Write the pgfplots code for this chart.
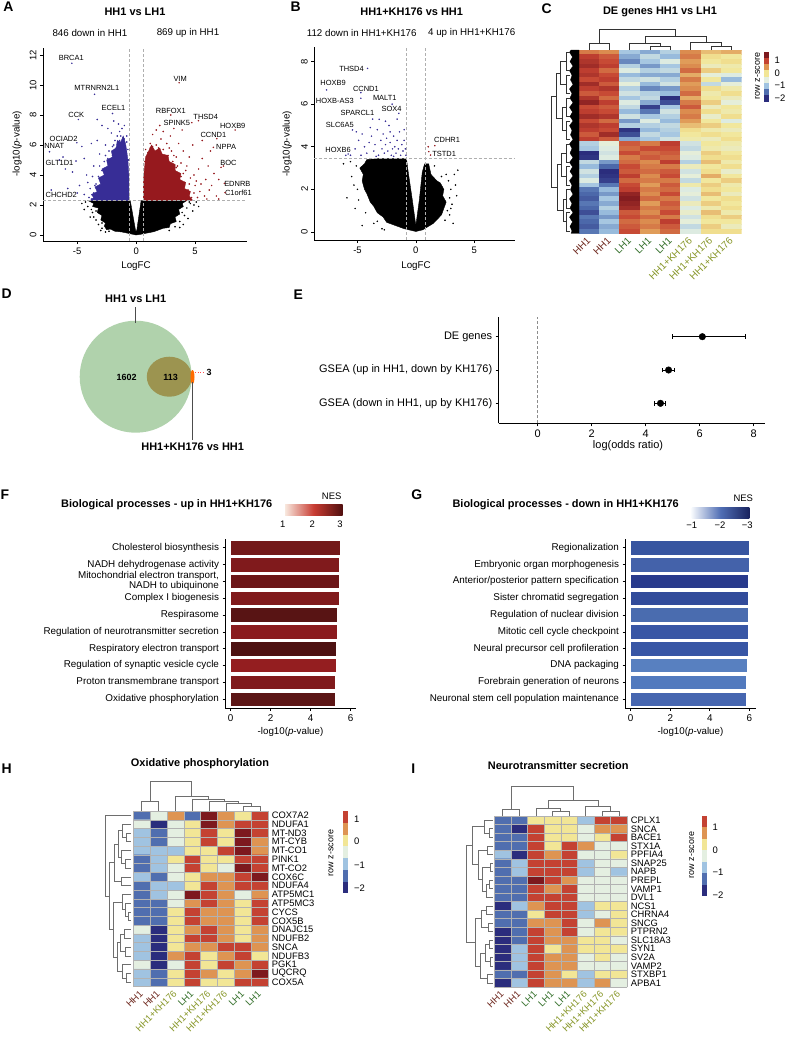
\documentclass[border=0pt]{standalone}
\usepackage{fontspec}
\setmainfont{Liberation Sans}
\usepackage{xcolor}
\usepackage{pgfplots}
\pgfplotsset{compat=1.18}

\newcommand{\fsz}[1]{\fontsize{#1}{#1}\selectfont}

\definecolor{vblue}{RGB}{55,45,150}
\definecolor{vred}{RGB}{150,25,30}
\definecolor{hhc}{RGB}{110,40,30}
\definecolor{lhc}{RGB}{50,110,40}
\definecolor{khc}{RGB}{135,150,40}
\definecolor{vgreen}{RGB}{176,210,172}
\definecolor{volive}{RGB}{156,148,80}
\definecolor{dashg}{RGB}{175,175,175}
\definecolor{dend}{RGB}{110,110,110}
% heatmap levels
\definecolor{z0}{RGB}{43,45,125}
\definecolor{z1}{RGB}{80,110,175}
\definecolor{z2}{RGB}{160,195,225}
\definecolor{z3}{RGB}{228,239,225}
\definecolor{z4}{RGB}{242,230,150}
\definecolor{z5}{RGB}{222,148,82}
\definecolor{z6}{RGB}{196,66,50}
\definecolor{z7}{RGB}{125,25,30}
% F bars
\definecolor{f1}{RGB}{115,25,25}
\definecolor{f2}{RGB}{128,26,28}
\definecolor{f3}{RGB}{108,22,24}
\definecolor{f4}{RGB}{128,26,28}
\definecolor{f5}{RGB}{88,20,20}
\definecolor{f6}{RGB}{138,27,30}
\definecolor{f7}{RGB}{78,18,18}
\definecolor{f8}{RGB}{148,30,32}
\definecolor{f9}{RGB}{128,26,28}
\definecolor{f10}{RGB}{92,22,22}
% G bars
\definecolor{g1}{RGB}{55,85,160}
\definecolor{g2}{RGB}{68,98,170}
\definecolor{g3}{RGB}{40,58,140}
\definecolor{g4}{RGB}{50,76,155}
\definecolor{g5}{RGB}{74,108,175}
\definecolor{g6}{RGB}{56,86,165}
\definecolor{g7}{RGB}{56,86,165}
\definecolor{g8}{RGB}{88,128,192}
\definecolor{g9}{RGB}{82,122,190}
\definecolor{g10}{RGB}{70,102,176}

\pgfplotsset{
  colormap={zs}{rgb255=(43,45,125) rgb255=(80,110,175) rgb255=(160,195,225) rgb255=(228,239,225) rgb255=(242,230,150) rgb255=(222,148,82) rgb255=(196,66,50) rgb255=(125,25,30)},
  /pgf/number format/assume math mode=true,
  vol/.style={anchor=north west, scale only axis, axis lines=left,
    axis line style={-,line width=0.6pt}, tick align=outside, major tick length=3bp,
    tick style={black,line width=0.6pt}, xtick={-5,0,5},
    tick label style={font=\fsz{9.5}}, yticklabel style={rotate=90,anchor=south},
    clip=false},
  bars/.style={anchor=north west, scale only axis, axis lines=left,
    axis line style={-,line width=0.6pt}, tick align=outside, major tick length=2.5bp,
    tick style={black,line width=0.6pt}, ytick={1,...,10}, xtick={0,2,4,6},
    xbar, bar width=14.5bp, bar shift=0pt,
    tick label style={font=\fsz{9.9}}, yticklabel style={align=right}},
  hm/.style={anchor=north west, scale only axis, xmin=-0.5, xmax=7.5, ymin=-0.5,
    y dir=reverse, axis line style={draw=none}, tick style={draw=none},
    major tick length=0pt, minor tick length=0pt, xtick={0,...,7},
    minor xtick={-0.5,0.5,...,7.5}, xminorgrids, yminorgrids,
    minor grid style={gray!60,line width=0.6pt}, axis on top,
    colormap name=zs, point meta min=-1.75, point meta max=1.75,
    yticklabel pos=right, yticklabel style={font=\fsz{9.4},anchor=west},
    xticklabel style={font=\fsz{9.5},xshift=2bp,yshift=-3bp,rotate=45,anchor=east}},
}

\begin{document}
\begin{tikzpicture}
\useasboundingbox (0,0) rectangle (785bp,-1037bp);

%% ---------------- A: volcano HH1 vs LH1
\begin{axis}[vol, at={(43bp,-47.5bp)}, width=204bp, height=193.5bp,
  xmin=-7.9, xmax=9.4, ymin=-0.4, ymax=12.5, ytick={0,2,...,12}]
\addplot[fill=black, draw=black, line width=0.4pt] coordinates {
 (0,0) (-0.3,0.05) (-1.2,0.2) (-1.8,0.25) (-2.2,0.4) (-2.5,0.35) (-2.7,0.6)
 (-2.6,0.8) (-3.0,1.0) (-2.9,1.3) (-3.3,1.5) (-3.2,1.8) (-3.7,1.9) (-3.6,2.1)
 (-4.1,2.3) (-0.5,2.3) (-0.05,0.3) (0.05,0.3) (0.42,2.3) (4.3,2.3) (3.9,2.1)
 (4.0,1.9) (3.6,1.7) (3.7,1.4) (3.3,1.2) (3.4,0.9) (2.9,0.75) (2.8,0.5)
 (2.3,0.45) (1.5,0.22) (0.4,0.05)} -- cycle;
\addplot[only marks, mark=*, mark size=0.55pt, black] coordinates {
 (-4.3,2.2) (-4.1,1.9) (-3.7,1.5) (-3.4,1.0) (-3.2,0.7) (-3.6,1.2) (-2.9,0.45)
 (-2.3,0.25) (-3.0,0.3) (-4.4,1.7) (-3.9,1.2) (3.7,0.9) (4.1,1.3) (4.3,1.8)
 (4.6,2.1) (4.0,0.7) (3.3,0.55) (4.8,1.6) (5.1,2.2) (2.8,0.3) (4.4,1.1) (5.3,1.9)
 (3.7,0.5) (-2.6,0.2) (-4.6,2.1) (-3.4,1.6) (-2.9,0.8) (4.5,2.2) (3.9,1.5) (3.3,0.9)
 (4.9,2.0) (-3.8,1.7) (2.6,0.55)};
\addplot[fill=vblue, draw=vblue, line width=0.4pt] coordinates {
 (-0.6,2.3) (-3.9,2.3) (-3.6,2.5) (-3.8,2.7) (-3.3,2.9) (-3.5,3.2) (-3.0,3.4)
 (-3.2,3.8) (-2.7,4.0) (-2.9,4.4) (-2.4,4.6) (-2.5,5.0) (-2.0,5.2) (-2.1,5.6)
 (-1.7,5.8) (-1.6,6.3) (-1.3,6.2) (-1.1,6.6) (-0.9,6.1) (-0.8,5.6) (-0.7,5.0)
 (-0.62,4.0)} -- cycle;
\addplot[only marks, mark=*, mark size=0.55pt, vblue] coordinates {
 (-4.0,2.5) (-4.4,2.7) (-3.9,3.1) (-4.8,3.3) (-3.4,3.4) (-3.2,3.9) (-4.2,4.0)
 (-2.9,4.3) (-3.6,4.6) (-2.7,4.9) (-2.4,5.1) (-3.1,5.4) (-2.3,5.6) (-2.0,5.9)
 (-2.6,6.0) (-1.8,6.3) (-1.6,6.6) (-2.1,6.8) (-1.4,6.9) (-1.2,7.1) (-1.0,7.3)
 (-1.5,7.4) (-2.4,7.1) (-2.9,7.3) (-3.3,7.7) (-0.8,6.6) (-0.7,5.7) (-1.1,6.5)
 (-3.8,6.1) (-4.4,5.1) (-5.4,4.2) (-5.8,3.1) (-6.5,5.0) (-5.0,2.8) (-3.3,6.3)
 (-1.9,7.6) (-4.6,5.9) (-6.0,4.4)
 (-3.8,2.4) (-3.6,2.8) (-3.3,3.1) (-3.0,3.5) (-2.8,3.9) (-2.5,4.4) (-2.3,4.8)
 (-2.0,5.3) (-1.7,5.8) (-1.4,6.3) (-1.0,6.4) (-0.8,6.2) (-0.65,5.0) (-3.5,3.3)
 (-2.9,3.8) (-3.1,4.6) (-2.6,5.3) (-2.2,5.0) (-1.9,6.0) (-1.3,6.6) (-4.1,3.5)
 (-3.7,3.9)
 (-5.45,11.45) (-3.53,9.38) (-2.0,8.1)
 (-4.9,7.7) (-5.03,6.15) (-7.35,5.55) (-5.1,4.93) (-7.2,3.0) (-6.2,5.2)};
\addplot[fill=vred, draw=vred, line width=0.4pt] coordinates {
 (0.6,2.3) (4.8,2.3) (4.5,2.6) (4.6,2.9) (4.1,3.1) (4.2,3.5) (3.7,3.7) (3.8,4.1)
 (3.3,4.3) (3.3,4.7) (2.8,4.9) (2.7,5.3) (2.2,5.4) (2.0,5.8) (1.6,5.6) (1.3,6.0)
 (1.0,5.5) (0.8,5.2) (0.7,4.4) (0.6,3.5)} -- cycle;
\addplot[only marks, mark=*, mark size=0.55pt, vred] coordinates {
 (0.8,5.7) (1.2,6.1) (1.7,6.0) (2.1,6.4) (2.6,6.1) (3.0,5.6) (3.4,5.2) (3.8,4.8)
 (4.2,4.3) (4.6,3.8) (5.0,3.3) (5.4,2.9) (5.8,2.6) (6.2,3.0) (4.9,4.0) (5.3,4.4)
 (4.5,5.2) (4.0,5.6) (3.6,6.1) (2.9,6.6) (2.3,6.9) (1.7,7.0) (1.4,6.7) (5.6,5.1)
 (6.1,4.6) (6.6,4.1) (6.4,3.3) (7.0,3.7) (6.8,2.6) (5.9,3.7) (4.8,6.0) (5.6,6.3)
 (3.2,7.1) (2.0,7.3) (6.3,5.6) (7.4,4.6) (5.2,2.5) (6.0,2.4) (7.0,2.4) (3.9,7.0)
 (4.7,2.5) (4.4,3.0) (4.1,3.5) (3.8,3.9) (3.4,4.5) (3.1,4.9) (2.7,5.3) (2.3,5.7)
 (1.9,5.8) (1.4,5.9) (1.0,5.5) (0.75,4.9) (4.9,2.8) (4.5,3.4) (4.0,4.1) (3.5,4.6)
 (2.8,5.8) (1.2,5.8) (5.1,3.6) (4.3,4.6) (3.2,5.3) (5.5,3.4)
 (3.64,10.15) (2.94,8.0) (4.72,7.49) (5.28,7.62) (8.39,7.0) (6.84,6.42)
 (6.55,5.84) (7.2,4.51) (7.48,3.44) (7.54,2.82)};
\addplot[dashg, line width=0.7pt, dash pattern=on 3pt off 2pt] coordinates {(-0.585,-0.4) (-0.585,12.5)};
\addplot[dashg, line width=0.7pt, dash pattern=on 3pt off 2pt] coordinates {(0.585,-0.4) (0.585,12.5)};
\addplot[dashg, line width=0.7pt, dash pattern=on 3pt off 2pt] coordinates {(-7.9,2.3) (9.4,2.3)};
\begin{scope}[font=\fsz{7.5}]
\node at (axis cs:-5.5,11.8) {BRCA1};
\node at (axis cs:-3.33,9.78) {MTRNRN2L1};
\node at (axis cs:-1.92,8.5) {ECEL1};
\node at (axis cs:-5.08,8.0) {CCK};
\node at (axis cs:-6.15,6.4) {OCIAD2};
\node at (axis cs:-6.95,5.95) {NNAT};
\node at (axis cs:-6.5,4.78) {GLT1D1};
\node at (axis cs:-6.35,2.67) {CHCHD2};
\node at (axis cs:3.73,10.4) {VIM};
\node at (axis cs:2.94,8.27) {RBFOX1};
\node at (axis cs:3.45,7.49) {SPINK5};
\node at (axis cs:5.9,7.9) {THSD4};
\node at (axis cs:8.19,7.27) {HOXB9};
\node at (axis cs:6.55,6.67) {CCND1};
\node at (axis cs:7.63,5.89) {NPPA};
\node at (axis cs:7.82,4.78) {BOC};
\node at (axis cs:8.58,3.38) {EDNRB};
\node at (axis cs:8.67,2.78) {C1orf61};
\end{scope}
\end{axis}

%% ---------------- B: volcano HH1+KH176 vs HH1
\begin{axis}[vol, at={(314.3bp,-46.7bp)}, width=200.7bp, height=193.3bp,
  xmin=-8.7, xmax=8.5, ymin=-0.38, ymax=8.7, ytick={0,2,...,8}]
\addplot[fill=black, draw=black, line width=0.4pt] coordinates {
 (0,0.02) (-1.0,0.15) (-2.0,0.35) (-2.5,0.45) (-2.8,0.7) (-3.3,0.9) (-3.6,1.2)
 (-3.9,1.4) (-4.2,1.8) (-4.4,2.0) (-4.6,2.4) (-4.5,2.7) (-4.8,3.0) (-4.4,3.2)
 (-4.2,3.4) (-3.0,3.45) (-0.8,3.45) (-0.7,3.0) (-0.3,1.5) (0,0.3)
 (0.3,1.5) (0.55,2.8) (0.75,3.2) (1.1,3.2) (1.3,2.7) (1.8,2.4) (2.1,2.3) (2.4,2.0)
 (2.3,1.7) (2.6,1.4) (2.2,0.8) (1.5,0.4) (0.6,0.1)} -- cycle;
\addplot[only marks, mark=*, mark size=0.55pt, black] coordinates {
 (-5.5,2.6) (-5.9,1.6) (-5.2,1.1) (-4.6,0.3) (-3.6,0.4) (-2.9,0.15) (-5.0,2.0)
 (-6.2,3.2) (2.8,2.4) (3.0,2.0) (3.1,1.3) (2.9,0.8) (3.3,2.7) (3.5,1.7) (2.6,2.7)
 (3.2,0.4) (1.6,3.1) (2.2,2.6) (-5.6,3.3) (-2.7,0.1) (3.6,2.9) (3.0,1.1) (2.5,0.55)
 (-5.1,3.1) (-4.9,1.5) (-4.3,0.9) (-3.3,0.5) (-5.3,2.2) (2.9,1.6) (2.7,1.0) (3.4,2.2)};
\addplot[only marks, mark=*, mark size=0.55pt, vblue] coordinates {
 (-5.6,3.6) (-5.2,3.9) (-4.9,4.3) (-4.6,4.6) (-4.4,4.0) (-4.2,3.7) (-4.0,4.2)
 (-3.8,4.5) (-3.6,3.8) (-3.5,4.1) (-3.3,4.8) (-3.2,3.6) (-3.0,4.3) (-2.9,3.9)
 (-2.8,4.6) (-2.7,3.7) (-2.6,4.1) (-2.5,4.4) (-2.4,3.8) (-2.3,5.0) (-2.2,4.2)
 (-2.1,3.6) (-2.0,3.9) (-1.9,4.5) (-1.8,4.0) (-1.7,3.7) (-1.6,4.3) (-1.5,3.9)
 (-1.4,4.7) (-1.3,3.6) (-1.2,4.1) (-1.1,3.8) (-1.0,4.3) (-0.9,3.9) (-0.85,3.6)
 (-1.6,5.3) (-2.6,5.2) (-3.9,4.9) (-5.1,4.7) (-4.7,3.6) (-1.9,3.55) (-3.4,3.55)
 (-2.2,4.7) (-1.0,4.8) (-6.0,3.6) (-3.7,5.3)
 (-4.14,7.68) (-7.65,6.67) (-4.71,6.54) (-4.71,6.28) (-2.03,6.0) (-1.46,5.57)
 (-3.14,5.29) (-5.43,4.79) (-5.8,3.66)};
\addplot[only marks, mark=*, mark size=0.55pt, vred] coordinates {
 (1.63,4.05) (1.26,3.61) (1.06,4.0) (1.11,3.77)};
\addplot[dashg, line width=0.7pt, dash pattern=on 3pt off 2pt] coordinates {(-0.77,-0.38) (-0.77,8.7)};
\addplot[dashg, line width=0.7pt, dash pattern=on 3pt off 2pt] coordinates {(0.8,-0.38) (0.8,8.7)};
\addplot[dashg, line width=0.7pt, dash pattern=on 3pt off 2pt] coordinates {(-8.7,3.46) (8.5,3.46)};
\begin{scope}[font=\fsz{7.5}]
\node at (axis cs:-5.51,7.64) {THSD4};
\node at (axis cs:-7.09,6.98) {HOXB9};
\node at (axis cs:-4.28,6.74) {CCND1};
\node at (axis cs:-6.94,6.16) {HOXB-AS3};
\node at (axis cs:-2.66,6.28) {MALT1};
\node at (axis cs:-2.08,5.77) {SOX4};
\node at (axis cs:-5.0,5.57) {SPARCL1};
\node at (axis cs:-6.51,5.02) {SLC6A5};
\node at (axis cs:-6.66,3.85) {HOXB6};
\node at (axis cs:2.68,4.32) {CDHR1};
\node at (axis cs:2.43,3.66) {TSTD1};
\end{scope}
\end{axis}

%% ---------------- C: heatmap DE genes
\begin{axis}[hm, at={(579bp,-50bp)}, width=162.7bp, height=183.3bp, ymax=39.5,
  ytick=\empty, xminorgrids=false, yminorgrids=false,
  point meta min=-1.75, point meta max=1.75,
  xticklabel style={font=\fsz{10}},
  xticklabels={\textcolor{hhc}{HH1},\textcolor{hhc}{HH1},\textcolor{lhc}{LH1},\textcolor{lhc}{LH1},\textcolor{lhc}{LH1},\textcolor{khc}{HH1+KH176},\textcolor{khc}{HH1+KH176},\textcolor{khc}{HH1+KH176}}]
\addplot[matrix plot*, mesh/cols=8, point meta=explicit] coordinates {
(0,0)[0.9] (1,0)[0.8] (2,0)[-0.7] (3,0)[-0.9] (4,0)[-0.6] (5,0)[0.8] (6,0)[0.5] (7,0)[0.6]
(0,1)[1.3] (1,1)[1.1] (2,1)[-0.9] (3,1)[-0.5] (4,1)[-0.8] (5,1)[0.9] (6,1)[0.3] (7,1)[0.2]
(0,2)[1.4] (1,2)[1.2] (2,2)[-1.1] (3,2)[-0.7] (4,2)[-0.3] (5,2)[0.7] (6,2)[0.2] (7,2)[0.3]
(0,3)[1.5] (1,3)[1.3] (2,3)[-0.6] (3,3)[-1.0] (4,3)[-0.7] (5,3)[0.8] (6,3)[0.0] (7,3)[0.1]
(0,4)[1.3] (1,4)[1.0] (2,4)[-0.3] (3,4)[-0.6] (4,4)[-0.5] (5,4)[1.0] (6,4)[0.4] (7,4)[0.2]
(0,5)[1.4] (1,5)[1.2] (2,5)[-0.8] (3,5)[-0.9] (4,5)[-0.9] (5,5)[0.6] (6,5)[-0.2] (7,5)[-0.3]
(0,6)[1.2] (1,6)[1.3] (2,6)[-0.5] (3,6)[-0.4] (4,6)[-0.6] (5,6)[0.9] (6,6)[0.2] (7,6)[-0.8]
(0,7)[1.5] (1,7)[1.1] (2,7)[-0.2] (3,7)[-0.8] (4,7)[-0.4] (5,7)[0.7] (6,7)[-0.5] (7,7)[-0.2]
(0,8)[1.3] (1,8)[1.4] (2,8)[-0.6] (3,8)[-1.1] (4,8)[-1.0] (5,8)[0.8] (6,8)[0.3] (7,8)[0.1]
(0,9)[1.1] (1,9)[1.2] (2,9)[-0.4] (3,9)[-0.6] (4,9)[-0.8] (5,9)[1.0] (6,9)[0.1] (7,9)[0.3]
(0,10)[1.4] (1,10)[1.0] (2,10)[-0.7] (3,10)[-0.5] (4,10)[-1.8] (5,10)[0.6] (6,10)[0.2] (7,10)[0.0]
(0,11)[1.6] (1,11)[1.3] (2,11)[-0.3] (3,11)[-0.9] (4,11)[-1.5] (5,11)[0.9] (6,11)[0.4] (7,11)[-0.2]
(0,12)[1.2] (1,12)[1.1] (2,12)[-0.5] (3,12)[-1.6] (4,12)[-0.7] (5,12)[1.1] (6,12)[0.0] (7,12)[0.2]
(0,13)[1.3] (1,13)[1.2] (2,13)[-0.8] (3,13)[-1.2] (4,13)[-0.4] (5,13)[0.8] (6,13)[0.3] (7,13)[0.1]
(0,14)[1.5] (1,14)[1.4] (2,14)[-0.4] (3,14)[-0.7] (4,14)[-0.6] (5,14)[0.9] (6,14)[-0.1] (7,14)[0.3]
(0,15)[1.2] (1,15)[1.0] (2,15)[-1.0] (3,15)[-0.3] (4,15)[-0.8] (5,15)[0.7] (6,15)[0.2] (7,15)[-0.3]
(0,16)[1.4] (1,16)[1.3] (2,16)[-0.6] (3,16)[-0.6] (4,16)[-0.5] (5,16)[0.5] (6,16)[0.4] (7,16)[0.2]
(0,17)[1.3] (1,17)[1.2] (2,17)[-1.7] (3,17)[-0.8] (4,17)[-0.6] (5,17)[0.3] (6,17)[0.1] (7,17)[0.0]
(0,18)[1.1] (1,18)[1.5] (2,18)[-1.5] (3,18)[-0.5] (4,18)[-0.7] (5,18)[0.2] (6,18)[0.3] (7,18)[0.2]
(0,19)[1.3] (1,19)[1.1] (2,19)[-0.9] (3,19)[-0.7] (4,19)[-0.4] (5,19)[0.1] (6,19)[0.0] (7,19)[0.3]
(0,20)[-0.6] (1,20)[-0.2] (2,20)[1.1] (3,20)[0.9] (4,20)[1.3] (5,20)[-0.4] (6,20)[0.2] (7,20)[0.1]
(0,21)[-0.7] (1,21)[-0.3] (2,21)[1.0] (3,21)[1.2] (4,21)[1.2] (5,21)[-0.5] (6,21)[0.1] (7,21)[0.0]
(0,22)[-1.8] (1,22)[-0.4] (2,22)[1.2] (3,22)[1.0] (4,22)[1.1] (5,22)[-0.2] (6,22)[0.4] (7,22)[0.2]
(0,23)[-1.7] (1,23)[-0.3] (2,23)[0.9] (3,23)[1.1] (4,23)[1.0] (5,23)[-0.3] (6,23)[0.3] (7,23)[0.3]
(0,24)[-0.5] (1,24)[-1.0] (2,24)[1.0] (3,24)[0.8] (4,24)[1.3] (5,24)[-0.6] (6,24)[0.5] (7,24)[0.1]
(0,25)[-0.8] (1,25)[-1.3] (2,25)[1.2] (3,25)[0.9] (4,25)[0.9] (5,25)[0.0] (6,25)[0.2] (7,25)[0.3]
(0,26)[-0.4] (1,26)[-1.8] (2,26)[1.1] (3,26)[1.0] (4,26)[1.1] (5,26)[-0.4] (6,26)[0.3] (7,26)[-0.1]
(0,27)[-0.6] (1,27)[-1.7] (2,27)[1.3] (3,27)[0.8] (4,27)[1.2] (5,27)[-0.2] (6,27)[0.6] (7,27)[0.2]
(0,28)[-0.3] (1,28)[-1.6] (2,28)[1.0] (3,28)[0.9] (4,28)[0.9] (5,28)[-0.5] (6,28)[0.2] (7,28)[0.4]
(0,29)[-0.7] (1,29)[-1.2] (2,29)[1.2] (3,29)[0.7] (4,29)[1.1] (5,29)[0.1] (6,29)[0.4] (7,29)[0.1]
(0,30)[-1.2] (1,30)[-0.8] (2,30)[1.3] (3,30)[0.9] (4,30)[1.0] (5,30)[-0.3] (6,30)[0.3] (7,30)[0.2]
(0,31)[-1.3] (1,31)[-1.0] (2,31)[1.6] (3,31)[0.8] (4,31)[1.2] (5,31)[-0.2] (6,31)[0.5] (7,31)[0.0]
(0,32)[-1.4] (1,32)[-0.7] (2,32)[1.7] (3,32)[1.0] (4,32)[0.9] (5,32)[-0.4] (6,32)[0.2] (7,32)[0.3]
(0,33)[-1.2] (1,33)[-0.9] (2,33)[1.6] (3,33)[0.7] (4,33)[1.1] (5,33)[0.0] (6,33)[0.4] (7,33)[0.2]
(0,34)[-1.3] (1,34)[-0.6] (2,34)[1.5] (3,34)[0.9] (4,34)[1.0] (5,34)[-0.3] (6,34)[0.1] (7,34)[0.3]
(0,35)[-1.5] (1,35)[-0.8] (2,35)[1.1] (3,35)[0.8] (4,35)[1.2] (5,35)[-0.1] (6,35)[0.5] (7,35)[0.1]
(0,36)[-1.2] (1,36)[-1.0] (2,36)[1.2] (3,36)[1.0] (4,36)[0.9] (5,36)[-0.4] (6,36)[0.3] (7,36)[0.4]
(0,37)[-1.3] (1,37)[-0.7] (2,37)[1.0] (3,37)[0.8] (4,37)[1.3] (5,37)[-0.2] (6,37)[0.2] (7,37)[0.2]
(0,38)[-1.4] (1,38)[-0.9] (2,38)[1.1] (3,38)[0.9] (4,38)[1.1] (5,38)[-0.5] (6,38)[0.4] (7,38)[0.0]
(0,39)[-1.2] (1,39)[-0.8] (2,39)[1.2] (3,39)[0.7] (4,39)[1.0] (5,39)[-0.3] (6,39)[0.3] (7,39)[0.3]
};
\end{axis}

%% ---------------- E: odds ratios
\begin{axis}[at={(498.7bp,-316.7bp)}, anchor=north west, width=266.3bp, height=106.6bp,
  scale only axis, xmin=-1.44, xmax=8.42, ymin=0.4, ymax=3.6, axis lines=left,
  axis line style={-,line width=0.6pt}, tick align=outside, major tick length=3bp,
  tick style={black,line width=0.6pt}, xtick={0,2,4,6,8}, ytick={1,2,3},
  yticklabels={{GSEA (down in HH1, up by KH176)},{GSEA (up in HH1, down by KH176)},{DE genes}},
  tick label style={font=\fsz{11}}, clip=false]
\addplot[dashg!80!black, line width=0.6pt, dash pattern=on 3pt off 2pt] coordinates {(0,0.4) (0,3.6)};
\addplot[only marks, mark=*, mark size=3.3pt, black,
  error bars/.cd, x dir=both, x explicit,
  error bar style={line width=0.9pt,black},
  error mark options={rotate=90, mark size=2.2pt, line width=0.9pt, black}]
  coordinates {(6.1,3) += (1.6,0) -= (1.1,0)
               (4.85,2) += (0.2,0) -= (0.22,0)
               (4.55,1) += (0.2,0) -= (0.22,0)};
\end{axis}

%% ---------------- F: bars up
\begin{axis}[bars, at={(225bp,-539bp)}, width=131bp, height=169.3bp,
  xmin=-0.28, xmax=6.27, ymin=0.45, ymax=10.52,
  yticklabels={Oxidative phosphorylation,Proton transmembrane transport,Regulation of synaptic vesicle cycle,Respiratory electron transport,Regulation of neurotransmitter secretion,Respirasome,Complex I biogenesis,{Mitochondrial electron transport,\\NADH to ubiquinone},NADH dehydrogenase activity,Cholesterol biosynthesis}]
\addplot[fill=f1, draw=white, line width=0.6pt] coordinates {(5.50,10)};
\addplot[fill=f2, draw=white, line width=0.6pt] coordinates {(5.43,9)};
\addplot[fill=f3, draw=white, line width=0.6pt] coordinates {(5.42,8)};
\addplot[fill=f4, draw=white, line width=0.6pt] coordinates {(5.42,7)};
\addplot[fill=f5, draw=white, line width=0.6pt] coordinates {(5.32,6)};
\addplot[fill=f6, draw=white, line width=0.6pt] coordinates {(5.33,5)};
\addplot[fill=f7, draw=white, line width=0.6pt] coordinates {(5.30,4)};
\addplot[fill=f8, draw=white, line width=0.6pt] coordinates {(5.30,3)};
\addplot[fill=f9, draw=white, line width=0.6pt] coordinates {(5.23,2)};
\addplot[fill=f10, draw=white, line width=0.6pt] coordinates {(5.22,1)};
\end{axis}

%% ---------------- G: bars down
\begin{axis}[bars, at={(625bp,-539bp)}, width=131bp, height=169.3bp,
  xmin=-0.29, xmax=6.34, ymin=0.45, ymax=10.52,
  yticklabels={Neuronal stem cell population maintenance,Forebrain generation of neurons,DNA packaging,Neural precursor cell profileration,Mitotic cell cycle checkpoint,Regulation of nuclear division,Sister chromatid segregation,Anterior/posterior pattern specification,Embryonic organ morphogenesis,Regionalization}]
\addplot[fill=g1, draw=white, line width=0.6pt] coordinates {(6.01,10)};
\addplot[fill=g2, draw=white, line width=0.6pt] coordinates {(6.00,9)};
\addplot[fill=g3, draw=white, line width=0.6pt] coordinates {(5.96,8)};
\addplot[fill=g4, draw=white, line width=0.6pt] coordinates {(5.96,7)};
\addplot[fill=g5, draw=white, line width=0.6pt] coordinates {(5.96,6)};
\addplot[fill=g6, draw=white, line width=0.6pt] coordinates {(5.96,5)};
\addplot[fill=g7, draw=white, line width=0.6pt] coordinates {(5.96,4)};
\addplot[fill=g8, draw=white, line width=0.6pt] coordinates {(5.92,3)};
\addplot[fill=g9, draw=white, line width=0.6pt] coordinates {(5.87,2)};
\addplot[fill=g10, draw=white, line width=0.6pt] coordinates {(5.84,1)};
\end{axis}

%% ---------------- H: oxidative phosphorylation heatmap
\begin{axis}[hm, at={(133.3bp,-811bp)}, width=135bp, height=175.7bp, ymax=19.5,
  ytick={0,...,19}, minor ytick={-0.5,0.5,...,19.5},
  yticklabels={COX7A2,NDUFA1,MT-ND3,MT-CYB,MT-CO1,PINK1,MT-CO2,COX6C,NDUFA4,ATP5MC1,ATP5MC3,CYCS,COX5B,DNAJC15,NDUFB2,SNCA,NDUFB3,PGK1,UQCRQ,COX5A},
  xticklabels={\textcolor{hhc}{HH1},\textcolor{hhc}{HH1},\textcolor{khc}{HH1+KH176},\textcolor{lhc}{LH1},\textcolor{khc}{HH1+KH176},\textcolor{khc}{HH1+KH176},\textcolor{lhc}{LH1},\textcolor{lhc}{LH1}}]
\addplot[matrix plot*, mesh/cols=8, point meta=explicit] coordinates {
(0,0)[-1.25] (1,0)[-0.25] (2,0)[0.75] (3,0)[-1.25] (4,0)[1.75] (5,0)[0.75] (6,0)[0.25] (7,0)[1.25]
(0,1)[-0.25] (1,1)[-1.75] (2,1)[-0.25] (3,1)[0.25] (4,1)[1.75] (5,1)[0.75] (6,1)[1.25] (7,1)[1.25]
(0,2)[-0.75] (1,2)[-1.25] (2,2)[-0.25] (3,2)[0.25] (4,2)[1.25] (5,2)[0.25] (6,2)[1.75] (7,2)[1.25]
(0,3)[-0.75] (1,3)[-1.25] (2,3)[-0.25] (3,3)[0.25] (4,3)[1.25] (5,3)[0.25] (6,3)[1.75] (7,3)[0.75]
(0,4)[-0.75] (1,4)[-0.75] (2,4)[-0.75] (3,4)[0.25] (4,4)[0.25] (5,4)[1.25] (6,4)[1.75] (7,4)[0.75]
(0,5)[-1.25] (1,5)[-0.75] (2,5)[0.25] (3,5)[1.25] (4,5)[0.25] (5,5)[0.25] (6,5)[1.25] (7,5)[1.25]
(0,6)[-1.25] (1,6)[-0.75] (2,6)[-0.25] (3,6)[1.25] (4,6)[0.25] (5,6)[-0.25] (6,6)[1.75] (7,6)[1.25]
(0,7)[-0.75] (1,7)[-1.25] (2,7)[-0.25] (3,7)[0.25] (4,7)[0.75] (5,7)[0.75] (6,7)[1.25] (7,7)[1.75]
(0,8)[-1.25] (1,8)[-0.75] (2,8)[-0.75] (3,8)[0.25] (4,8)[1.25] (5,8)[0.75] (6,8)[1.25] (7,8)[1.25]
(0,9)[-1.25] (1,9)[-0.75] (2,9)[-0.25] (3,9)[1.75] (4,9)[1.25] (5,9)[0.75] (6,9)[-0.25] (7,9)[0.75]
(0,10)[-1.25] (1,10)[-1.25] (2,10)[-0.25] (3,10)[0.75] (4,10)[1.25] (5,10)[0.75] (6,10)[0.25] (7,10)[1.25]
(0,11)[-1.25] (1,11)[-1.25] (2,11)[0.25] (3,11)[1.25] (4,11)[0.75] (5,11)[0.75] (6,11)[0.25] (7,11)[1.25]
(0,12)[-1.25] (1,12)[-1.25] (2,12)[0.25] (3,12)[1.25] (4,12)[0.75] (5,12)[0.75] (6,12)[0.25] (7,12)[1.25]
(0,13)[-0.25] (1,13)[-1.75] (2,13)[0.25] (3,13)[0.75] (4,13)[1.25] (5,13)[0.75] (6,13)[0.25] (7,13)[0.75]
(0,14)[-0.75] (1,14)[-1.75] (2,14)[0.25] (3,14)[1.25] (4,14)[1.25] (5,14)[0.75] (6,14)[0.25] (7,14)[0.75]
(0,15)[-0.75] (1,15)[-1.75] (2,15)[0.25] (3,15)[0.75] (4,15)[0.75] (5,15)[1.25] (6,15)[1.25] (7,15)[0.75]
(0,16)[-0.75] (1,16)[-1.75] (2,16)[0.75] (3,16)[1.25] (4,16)[0.25] (5,16)[0.75] (6,16)[1.25] (7,16)[0.25]
(0,17)[-0.25] (1,17)[-1.75] (2,17)[-0.25] (3,17)[1.25] (4,17)[0.25] (5,17)[1.25] (6,17)[0.75] (7,17)[1.25]
(0,18)[-0.75] (1,18)[-1.25] (2,18)[0.25] (3,18)[1.25] (4,18)[0.75] (5,18)[0.25] (6,18)[0.75] (7,18)[1.75]
(0,19)[-0.75] (1,19)[-1.25] (2,19)[0.25] (3,19)[1.25] (4,19)[0.25] (5,19)[0.25] (6,19)[1.25] (7,19)[1.25]
};
\end{axis}

%% ---------------- I: neurotransmitter secretion heatmap
\begin{axis}[hm, at={(494.3bp,-816bp)}, width=133bp, height=171.3bp, ymax=19.5,
  ytick={0,...,19}, minor ytick={-0.5,0.5,...,19.5},
  yticklabels={CPLX1,SNCA,BACE1,STX1A,PPFIA4,SNAP25,NAPB,PREPL,VAMP1,DVL1,NCS1,CHRNA4,SNCG,PTPRN2,SLC18A3,SYN1,SV2A,VAMP2,STXBP1,APBA1},
  xticklabels={\textcolor{hhc}{HH1},\textcolor{hhc}{HH1},\textcolor{lhc}{LH1},\textcolor{lhc}{LH1},\textcolor{lhc}{LH1},\textcolor{khc}{HH1+KH176},\textcolor{khc}{HH1+KH176},\textcolor{khc}{HH1+KH176}}]
\addplot[matrix plot*, mesh/cols=8, point meta=explicit] coordinates {
(0,0)[-1.25] (1,0)[-1.25] (2,0)[0.25] (3,0)[0.25] (4,0)[0.25] (5,0)[-0.75] (6,0)[1.25] (7,0)[1.25]
(0,1)[-1.25] (1,1)[-1.75] (2,1)[1.25] (3,1)[0.25] (4,1)[0.25] (5,1)[-0.25] (6,1)[0.75] (7,1)[0.75]
(0,2)[-1.25] (1,2)[-1.25] (2,2)[1.25] (3,2)[0.25] (4,2)[0.25] (5,2)[-0.25] (6,2)[0.25] (7,2)[1.25]
(0,3)[-1.25] (1,3)[-1.25] (2,3)[1.25] (3,3)[0.25] (4,3)[1.25] (5,3)[0.75] (6,3)[-0.25] (7,3)[-0.25]
(0,4)[-0.75] (1,4)[-1.75] (2,4)[1.25] (3,4)[0.75] (4,4)[1.25] (5,4)[-0.25] (6,4)[-0.25] (7,4)[0.25]
(0,5)[-1.25] (1,5)[-0.75] (2,5)[1.25] (3,5)[1.25] (4,5)[1.25] (5,5)[-0.75] (6,5)[-0.25] (7,5)[-0.25]
(0,6)[-1.25] (1,6)[-0.75] (2,6)[1.25] (3,6)[1.25] (4,6)[1.25] (5,6)[-0.75] (6,6)[-0.25] (7,6)[-0.75]
(0,7)[-1.25] (1,7)[-1.25] (2,7)[1.75] (3,7)[1.25] (4,7)[0.75] (5,7)[-0.25] (6,7)[-0.25] (7,7)[-0.25]
(0,8)[-1.25] (1,8)[-1.25] (2,8)[1.25] (3,8)[0.75] (4,8)[1.25] (5,8)[-0.25] (6,8)[-0.25] (7,8)[-0.25]
(0,9)[-1.25] (1,9)[-1.25] (2,9)[1.25] (3,9)[1.25] (4,9)[1.25] (5,9)[-0.25] (6,9)[-0.25] (7,9)[-0.25]
(0,10)[-1.75] (1,10)[-0.75] (2,10)[0.75] (3,10)[1.25] (4,10)[1.25] (5,10)[-0.75] (6,10)[0.25] (7,10)[0.25]
(0,11)[-1.25] (1,11)[-1.25] (2,11)[0.25] (3,11)[1.25] (4,11)[1.25] (5,11)[-0.75] (6,11)[-0.25] (7,11)[0.25]
(0,12)[-1.25] (1,12)[-1.25] (2,12)[0.75] (3,12)[0.75] (4,12)[1.25] (5,12)[-0.25] (6,12)[0.75] (7,12)[0.25]
(0,13)[-1.75] (1,13)[-1.25] (2,13)[1.25] (3,13)[0.75] (4,13)[1.25] (5,13)[-0.25] (6,13)[0.25] (7,13)[0.25]
(0,14)[-1.75] (1,14)[-1.25] (2,14)[1.25] (3,14)[0.75] (4,14)[0.75] (5,14)[0.25] (6,14)[0.25] (7,14)[-0.25]
(0,15)[-1.75] (1,15)[-0.75] (2,15)[1.25] (3,15)[0.25] (4,15)[0.75] (5,15)[0.25] (6,15)[0.25] (7,15)[0.25]
(0,16)[-1.75] (1,16)[-0.75] (2,16)[1.25] (3,16)[0.75] (4,16)[0.75] (5,16)[-0.25] (6,16)[0.25] (7,16)[-0.25]
(0,17)[-1.75] (1,17)[-0.75] (2,17)[1.25] (3,17)[0.75] (4,17)[0.75] (5,17)[-0.25] (6,17)[-0.25] (7,17)[-0.25]
(0,18)[-1.25] (1,18)[-1.25] (2,18)[1.25] (3,18)[0.75] (4,18)[0.25] (5,18)[-0.75] (6,18)[0.25] (7,18)[0.25]
(0,19)[-1.75] (1,19)[-0.75] (2,19)[1.25] (3,19)[0.75] (4,19)[0.75] (5,19)[-0.75] (6,19)[0.75] (7,19)[-0.25]
};
\end{axis}

%% ---------------- canvas: dendrograms, Venn, legends, titles (pixel units)
\begin{axis}[at={(0,0)}, anchor=north west, width=785bp, height=1037bp, scale only axis,
  xmin=0, xmax=785, ymin=0, ymax=1037, y dir=reverse, hide axis, clip=false,
  unbounded coords=jump]
% C column dendrogram
\addplot[black!80, line width=0.7pt] coordinates {
 (589.2,50) (589.2,43.3) (609.5,43.3) (609.5,50) (nan,nan)
 (650.1,50) (650.1,46.7) (670.5,46.7) (670.5,50) (nan,nan)
 (629.8,50) (629.8,43.3) (660.3,43.3) (660.3,46.7) (nan,nan)
 (711.1,50) (711.1,46.7) (731.4,46.7) (731.4,50) (nan,nan)
 (690.8,50) (690.8,42.3) (721.2,42.3) (721.2,46.7) (nan,nan)
 (645,43.3) (645,36.7) (706,36.7) (706,42.3) (nan,nan)
 (599.3,43.3) (599.3,29.3) (675.5,29.3) (675.5,36.7)};
% C row dendrogram: dense leaves band
\addplot[fill=black, draw=black, line width=0.3pt] coordinates {
 (579,50) (571,50) (569.5,52.3) (572.5,56.9) (570,61.5) (573,66.1) (569.5,70.6)
 (572,75.2) (570.5,79.8) (573,84.4) (569.5,89.0) (572,93.5) (570,98.1) (573,102.7)
 (569.5,107.3) (572.5,111.9) (570,116.4) (573,121.0) (569.5,125.6) (572,130.2)
 (570.5,134.8) (573,139.4) (569.5,143.9) (572,148.5) (570,153.1) (573,157.7)
 (569.5,162.3) (572.5,166.8) (570,171.4) (573,176.0) (569.5,180.6) (572,185.2)
 (570.5,189.7) (573,194.3) (569.5,198.9) (572,203.5) (570,208.1) (573,212.6)
 (569.5,217.2) (572.5,221.8) (570,226.4) (572,231.0) (571,233.3) (579,233.3)} -- cycle;
\addplot[black!80, line width=0.7pt] coordinates {
 (570,52.3) (566,52.3) (566,70.6) (570,70.6) (nan,nan)
 (570,75.2) (566,75.2) (566,93.5) (570,93.5) (nan,nan)
 (570,98.1) (566,98.1) (566,116.4) (570,116.4) (nan,nan)
 (570,121.0) (566,121.0) (566,139.4) (570,139.4) (nan,nan)
 (570,143.9) (566,143.9) (566,162.3) (570,162.3) (nan,nan)
 (570,166.8) (566,166.8) (566,185.2) (570,185.2) (nan,nan)
 (570,189.7) (566,189.7) (566,208.1) (570,208.1) (nan,nan)
 (570,212.6) (566,212.6) (566,231.0) (570,231.0) (nan,nan)
 (566,61.5) (560,61.5) (560,84.4) (566,84.4) (nan,nan)
 (566,107.3) (562,107.3) (562,130.2) (566,130.2) (nan,nan)
 (560,73) (556,73) (556,118.75) (562,118.75) (nan,nan)
 (566,153.1) (561,153.1) (561,176) (566,176) (nan,nan)
 (566,198.9) (563,198.9) (563,221.8) (566,221.8) (nan,nan)
 (561,164.55) (557,164.55) (557,210.35) (563,210.35) (nan,nan)
 (556,95.9) (551,95.9) (551,187.45) (557,187.45)};
% H column dendrogram
\addplot[dend, line width=0.7pt] coordinates {
 (141.7,811) (141.7,801.7) (158.6,801.7) (158.6,811) (nan,nan)
 (243.0,811) (243.0,806.7) (259.9,806.7) (259.9,811) (nan,nan)
 (226.1,811) (226.1,803.3) (251.4,803.3) (251.4,806.7) (nan,nan)
 (209.2,811) (209.2,801.7) (238.8,801.7) (238.8,803.3) (nan,nan)
 (192.3,811) (192.3,799.3) (224.0,799.3) (224.0,801.7) (nan,nan)
 (175.5,811) (175.5,796) (208.2,796) (208.2,799.3) (nan,nan)
 (150.2,801.7) (150.2,781.7) (191.8,781.7) (191.8,796)};
% H row dendrogram
\addplot[dend, line width=0.7pt] coordinates {
 (131,833.0) (126,833.0) (126,841.8) (131,841.8) (nan,nan)
 (131,824.2) (122,824.2) (122,837.4) (126,837.4) (nan,nan)
 (131,859.3) (125,859.3) (125,868.1) (131,868.1) (nan,nan)
 (131,850.5) (121,850.5) (121,863.7) (125,863.7) (nan,nan)
 (122,830.8) (118,830.8) (118,857.1) (121,857.1) (nan,nan)
 (131,876.9) (121,876.9) (121,885.7) (131,885.7) (nan,nan)
 (118,844.0) (114,844.0) (114,881.3) (121,881.3) (nan,nan)
 (131,912.0) (128,912.0) (128,920.8) (131,920.8) (nan,nan)
 (131,903.2) (125,903.2) (125,916.4) (128,916.4) (nan,nan)
 (131,894.5) (122,894.5) (122,909.8) (125,909.8) (nan,nan)
 (131,929.6) (124,929.6) (124,938.4) (131,938.4) (nan,nan)
 (131,947.2) (125,947.2) (125,955.9) (131,955.9) (nan,nan)
 (124,934.0) (120,934.0) (120,951.6) (125,951.6) (nan,nan)
 (131,973.5) (126,973.5) (126,982.3) (131,982.3) (nan,nan)
 (131,964.7) (122,964.7) (122,977.9) (126,977.9) (nan,nan)
 (120,942.8) (117,942.8) (117,971.3) (122,971.3) (nan,nan)
 (122,902.2) (113,902.2) (113,957.1) (117,957.1) (nan,nan)
 (114,862.6) (109,862.6) (109,929.6) (113,929.6) (nan,nan)
 (131,815.4) (105,815.4) (105,896.1) (109,896.1)};
% I column dendrogram
\addplot[dend, line width=0.7pt] coordinates {
 (502.6,816) (502.6,809.3) (519.2,809.3) (519.2,816) (nan,nan)
 (552.5,816) (552.5,811.7) (569.1,811.7) (569.1,816) (nan,nan)
 (535.9,816) (535.9,808.3) (560.8,808.3) (560.8,811.7) (nan,nan)
 (602.4,816) (602.4,811) (619.0,811) (619.0,816) (nan,nan)
 (585.7,816) (585.7,806.7) (610.7,806.7) (610.7,811) (nan,nan)
 (548.35,808.3) (548.35,800) (598.2,800) (598.2,806.7) (nan,nan)
 (510.9,809.3) (510.9,786.7) (573.3,786.7) (573.3,800)};
% I row dendrogram
\addplot[dend, line width=0.7pt] coordinates {
 (493,828.8) (489,828.8) (489,837.4) (493,837.4) (nan,nan)
 (493,820.3) (484,820.3) (484,833.1) (489,833.1) (nan,nan)
 (493,846.0) (487,846.0) (487,854.5) (493,854.5) (nan,nan)
 (493,863.1) (490,863.1) (490,871.7) (493,871.7) (nan,nan)
 (493,880.3) (489,880.3) (489,888.8) (493,888.8) (nan,nan)
 (493,897.4) (486,897.4) (486,884.55) (489,884.55) (nan,nan)
 (490,867.4) (482,867.4) (482,890.98) (486,890.98) (nan,nan)
 (487,850.25) (478,850.25) (478,879.2) (482,879.2) (nan,nan)
 (484,826.7) (472,826.7) (472,864.7) (478,864.7) (nan,nan)
 (493,905.9) (486,905.9) (486,914.5) (493,914.5) (nan,nan)
 (493,923.1) (488,923.1) (488,931.6) (493,931.6) (nan,nan)
 (486,910.2) (481,910.2) (481,927.35) (488,927.35) (nan,nan)
 (493,940.2) (489,940.2) (489,948.8) (493,948.8) (nan,nan)
 (493,957.3) (490,957.3) (490,965.9) (493,965.9) (nan,nan)
 (489,944.5) (485,944.5) (485,961.6) (490,961.6) (nan,nan)
 (493,974.5) (487,974.5) (487,983.0) (493,983.0) (nan,nan)
 (485,953.05) (480,953.05) (480,978.75) (487,978.75) (nan,nan)
 (481,918.8) (475,918.8) (475,965.9) (480,965.9) (nan,nan)
 (472,845.7) (466.7,845.7) (466.7,942.35) (475,942.35)};

% D: Venn
\fill[vgreen] (axis cs:135.7,376.7) circle[radius=56bp];
\fill[volive] (axis cs:169.3,376.7) ellipse[x radius=22.5bp, y radius=20bp];
\fill[orange!85!red] (axis cs:192.5,377) ellipse[x radius=2bp, y radius=7bp];
\draw[black!70, line width=0.6pt] (axis cs:135.7,307) -- (axis cs:135.7,323);
\draw[black!70, line width=0.6pt] (axis cs:192.7,382) -- (axis cs:192.7,440);
\draw[red!70, line width=0.6pt, dotted] (axis cs:195,372) -- (axis cs:205,372);
\node[font=\bfseries\fsz{9}] at (axis cs:126.7,377) {1602};
\node[font=\bfseries\fsz{9}] at (axis cs:170.7,377) {113};
\node[font=\bfseries\fsz{9}] at (axis cs:209,372) {3};
\node[font=\bfseries\fsz{11}] at (axis cs:135.7,299) {HH1 vs LH1};
\node[font=\bfseries\fsz{11}] at (axis cs:192.7,447) {HH1+KH176 vs HH1};

% C colorbar
\fill[z7] (axis cs:764,51.7) rectangle (axis cs:769,57.95);
\fill[z6] (axis cs:764,57.95) rectangle (axis cs:769,64.2);
\fill[z5] (axis cs:764,64.2) rectangle (axis cs:769,70.45);
\fill[z4] (axis cs:764,70.45) rectangle (axis cs:769,76.7);
\fill[z3] (axis cs:764,76.7) rectangle (axis cs:769,82.95);
\fill[z2] (axis cs:764,82.95) rectangle (axis cs:769,89.2);
\fill[z1] (axis cs:764,89.2) rectangle (axis cs:769,95.45);
\fill[z0] (axis cs:764,95.45) rectangle (axis cs:769,101.7);
\begin{scope}[font=\fsz{9.5}]
\node[anchor=west] at (axis cs:771,60.7) {1};
\node[anchor=west] at (axis cs:771,73.3) {0};
\node[anchor=west] at (axis cs:771,85.5) {−1};
\node[anchor=west] at (axis cs:771,98.3) {−2};
\node[rotate=90, font=\fsz{9}] at (axis cs:757.5,76) {row z-score};
\end{scope}

% H colorbar
\fill[z6] (axis cs:342.7,811) rectangle (axis cs:348.3,822.76);
\fill[z5] (axis cs:342.7,822.76) rectangle (axis cs:348.3,834.52);
\fill[z4] (axis cs:342.7,834.52) rectangle (axis cs:348.3,846.28);
\fill[z3] (axis cs:342.7,846.28) rectangle (axis cs:348.3,858.04);
\fill[z2] (axis cs:342.7,858.04) rectangle (axis cs:348.3,869.8);
\fill[z1] (axis cs:342.7,869.8) rectangle (axis cs:348.3,881.56);
\fill[z0] (axis cs:342.7,881.56) rectangle (axis cs:348.3,893.32);
\begin{scope}[font=\fsz{9.5}]
\node[anchor=west] at (axis cs:350.5,819) {1};
\node[anchor=west] at (axis cs:350.5,841.7) {0};
\node[anchor=west] at (axis cs:350.5,865) {−1};
\node[anchor=west] at (axis cs:350.5,888.3) {−2};
\node[rotate=90, font=\fsz{9}] at (axis cs:331,853) {row z-score};
\end{scope}

% I colorbar
\fill[z6] (axis cs:701.7,816) rectangle (axis cs:706.7,827.43);
\fill[z5] (axis cs:701.7,827.43) rectangle (axis cs:706.7,838.86);
\fill[z4] (axis cs:701.7,838.86) rectangle (axis cs:706.7,850.29);
\fill[z3] (axis cs:701.7,850.29) rectangle (axis cs:706.7,861.72);
\fill[z2] (axis cs:701.7,861.72) rectangle (axis cs:706.7,873.15);
\fill[z1] (axis cs:701.7,873.15) rectangle (axis cs:706.7,884.58);
\fill[z0] (axis cs:701.7,884.58) rectangle (axis cs:706.7,896.01);
\begin{scope}[font=\fsz{9.5}]
\node[anchor=west] at (axis cs:709,827.3) {1};
\node[anchor=west] at (axis cs:709,850) {0};
\node[anchor=west] at (axis cs:709,872.7) {−1};
\node[anchor=west] at (axis cs:709,895) {−2};
\node[rotate=90, font=\fsz{9}] at (axis cs:691.7,855) {row z-score};
\end{scope}

% F and G NES legends
\shade[left color={rgb,255:red,248;green,232;blue,222}, right color={rgb,255:red,80;green,15;blue,15}, middle color={rgb,255:red,200;green,60;blue,50}] (axis cs:285,504.3) rectangle (axis cs:342.7,515);
\shade[left color={rgb,255:red,245;green,248;blue,252}, right color={rgb,255:red,25;green,35;blue,95}, middle color={rgb,255:red,80;green,110;blue,180}] (axis cs:691.7,507.7) rectangle (axis cs:749.3,518.3);
\begin{scope}[font=\fsz{9.5}]
\node at (axis cs:282.7,524) {1};
\node at (axis cs:312.3,524) {2};
\node at (axis cs:340,524) {3};
\node at (axis cs:331.7,496) {NES};
\node at (axis cs:691.7,525.5) {−1};
\node at (axis cs:720,525.5) {−2};
\node at (axis cs:747.3,525.5) {−3};
\node at (axis cs:743.3,498) {NES};
\end{scope}

% titles
\begin{scope}[font=\bfseries\fsz{11}]
\node at (axis cs:135,12) {HH1 vs LH1};
\node at (axis cs:411.7,12) {HH1+KH176 vs HH1};
\node at (axis cs:660,11.7) {DE genes HH1 vs LH1};
\node at (axis cs:166.7,504.3) {Biological processes - up in HH1+KH176};
\node at (axis cs:565.7,504.3) {Biological processes - down in HH1+KH176};
\node at (axis cs:200,764) {Oxidative phosphorylation};
\node at (axis cs:558.3,766) {Neurotransmitter secretion};
\end{scope}
% subtitles and axis labels
\begin{scope}[font=\fsz{9.8}]
\node at (axis cs:90,33) {846 down in HH1};
\node at (axis cs:188,33) {869 up in HH1};
\node at (axis cs:361.7,33) {112 down in HH1+KH176};
\node at (axis cs:471.7,33) {4 up in HH1+KH176};
\end{scope}
\begin{scope}[font=\fsz{9.8}]
\node at (axis cs:136,266) {LogFC};
\node at (axis cs:416,266) {LogFC};
\node[rotate=90] at (axis cs:17,144) {-log10(\textit{p}-value)};
\node[rotate=90] at (axis cs:287,144) {-log10(\textit{p}-value)};
\node at (axis cs:290.5,732) {-log10(\textit{p}-value)};
\node at (axis cs:690.5,732) {-log10(\textit{p}-value)};
\end{scope}
\node[font=\fsz{11}] at (axis cs:628,446) {log(odds ratio)};
% panel letters
\begin{scope}[font=\bfseries\fsz{14}]
\node at (axis cs:8.3,7) {A};
\node at (axis cs:295.7,7) {B};
\node at (axis cs:546.7,8.3) {C};
\node at (axis cs:6.7,293.3) {D};
\node at (axis cs:298.3,295) {E};
\node at (axis cs:5,494.3) {F};
\node at (axis cs:416.7,495) {G};
\node at (axis cs:6.7,768.3) {H};
\node at (axis cs:413.3,768.3) {I};
\end{scope}
\end{axis}
\end{tikzpicture}
\end{document}
